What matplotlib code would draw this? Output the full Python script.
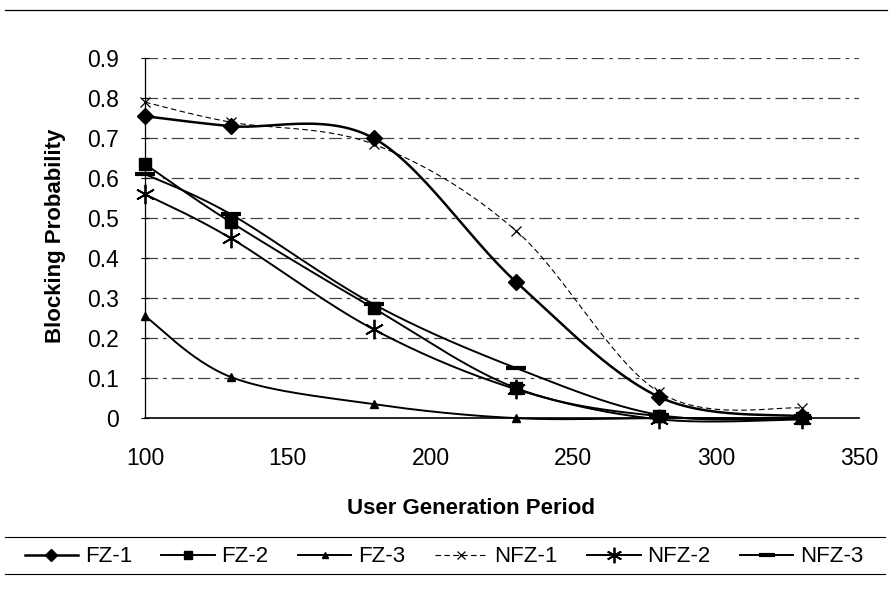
import numpy as np
import matplotlib
matplotlib.use("Agg")
import matplotlib.pyplot as plt
from matplotlib.lines import Line2D

plt.rcParams["font.family"] = ["Liberation Sans", "DejaVu Sans"]

# user generation period (x) and blocking probability per scheme
period = [100, 130, 180, 230, 280, 330]
fz1 = [0.755, 0.73, 0.70, 0.34, 0.053, 0.004]
fz2 = [0.635, 0.49, 0.275, 0.075, 0.005, 0.0]
fz3 = [0.255, 0.103, 0.035, 0.0, 0.0, 0.0]
nfz1 = [0.79, 0.74, 0.685, 0.468, 0.065, 0.025]
nfz2 = [0.56, 0.45, 0.222, 0.072, -0.003, -0.003]
nfz3 = [0.61, 0.51, 0.285, 0.125, 0.008, 0.0]

x_ticks = [100, 150, 200, 250, 300, 350]
y_ticks = [0, 0.1, 0.2, 0.3, 0.4, 0.5, 0.6, 0.7, 0.8, 0.9]
y_tick_labels = ["0", "0.1", "0.2", "0.3", "0.4", "0.5", "0.6", "0.7", "0.8", "0.9"]


def smooth(xs, ys, n=30):
    # Excel-like smoothed line: Catmull-Rom turned into cubic Bezier segments
    p = np.column_stack([xs, ys]).astype(float)
    p_ext = np.vstack([p[0], p, p[-1]])
    out = []
    t = np.linspace(0, 1, n, endpoint=False)[:, None]
    for i in range(len(p) - 1):
        a, b, c, d = p_ext[i], p_ext[i + 1], p_ext[i + 2], p_ext[i + 3]
        c1 = b + (c - a) / 6.0
        c2 = c - (d - b) / 6.0
        seg = ((1 - t) ** 3) * b + 3 * ((1 - t) ** 2) * t * c1 \
            + 3 * (1 - t) * t ** 2 * c2 + t ** 3 * c
        out.append(seg)
    out.append(p[-1][None, :])
    out = np.vstack(out)
    return out[:, 0], out[:, 1], list(range(0, (len(p) - 1) * n + 1, n))


series = [
    ("FZ-1", fz1, dict(color="black", lw=1.8, ls="-", marker="D", ms=8)),
    ("FZ-2", fz2, dict(color="black", lw=1.4, ls="-", marker="s", ms=8)),
    ("FZ-3", fz3, dict(color="black", lw=1.4, ls="-", marker="^", ms=6)),
    ("NFZ-1", nfz1, dict(color="black", lw=0.8, ls=(0, (5, 3)), marker="x", ms=7, mew=0.9)),
    ("NFZ-2", nfz2, dict(color="black", lw=1.4, ls="-", marker=(6, 2, 0), ms=14, mew=1.3)),
    ("NFZ-3", nfz3, dict(color="black", lw=1.4, ls="-", marker="_", ms=14, mew=3)),
]

fig = plt.figure(figsize=(8.92, 6.06), dpi=100)
fig.patch.set_facecolor("white")
ax = fig.add_axes([0.1626, 0.31, 0.8004, 0.594])

for y in y_ticks[1:]:
    ax.axhline(y, color="#444444", lw=0.9, ls=(0, (10, 4, 3, 4)), zorder=0)

for name, vals, st in series:
    sx, sy, me = smooth(period, vals)
    ax.plot(sx, sy, label=name, markevery=me, clip_on=False, zorder=3, **st)

ax.set_xlim(100, 350)
ax.set_ylim(0, 0.9)
ax.set_xticks(x_ticks)
ax.set_xticklabels([str(v) for v in x_ticks], fontsize=16.5)
ax.set_yticks(y_ticks)
ax.set_yticklabels(y_tick_labels, fontsize=16.5)
ax.tick_params(axis="x", length=0, pad=21)
ax.tick_params(axis="y", direction="inout", length=6, width=0.8, pad=16)

for s in ["top", "right"]:
    ax.spines[s].set_visible(False)
ax.spines["left"].set_linewidth(0.9)
ax.spines["bottom"].set_linewidth(1.2)

fig.text(471 / 892, 1 - 508 / 606, "User Generation Period", ha="center", va="center",
         fontsize=16, fontweight="bold")
fig.text(55 / 892, 1 - 236 / 606, "Blocking Probability", ha="center", va="center",
         rotation=90, fontsize=16, fontweight="bold")

leg_y0 = 1 - 574 / 606
leg_y1 = 1 - 537 / 606
leg = fig.legend(loc="lower left", bbox_to_anchor=(18 / 892, leg_y0, 852 / 892, leg_y1 - leg_y0),
                 mode="expand", ncol=6, fontsize=16, frameon=False,
                 handlelength=2.4, handletextpad=0.3, columnspacing=0.6,
                 borderpad=0.3, borderaxespad=0, markerscale=0.8)

# legend box edges and chart-area border remnant at the top
for yy in (leg_y0, leg_y1):
    fig.add_artist(Line2D([5 / 892, 885 / 892], [yy, yy], color="black", lw=0.8))
fig.add_artist(Line2D([0.006, 0.994], [0.984, 0.984], color="black", lw=0.9))

fig.savefig("out.png", dpi=100, facecolor="white")
